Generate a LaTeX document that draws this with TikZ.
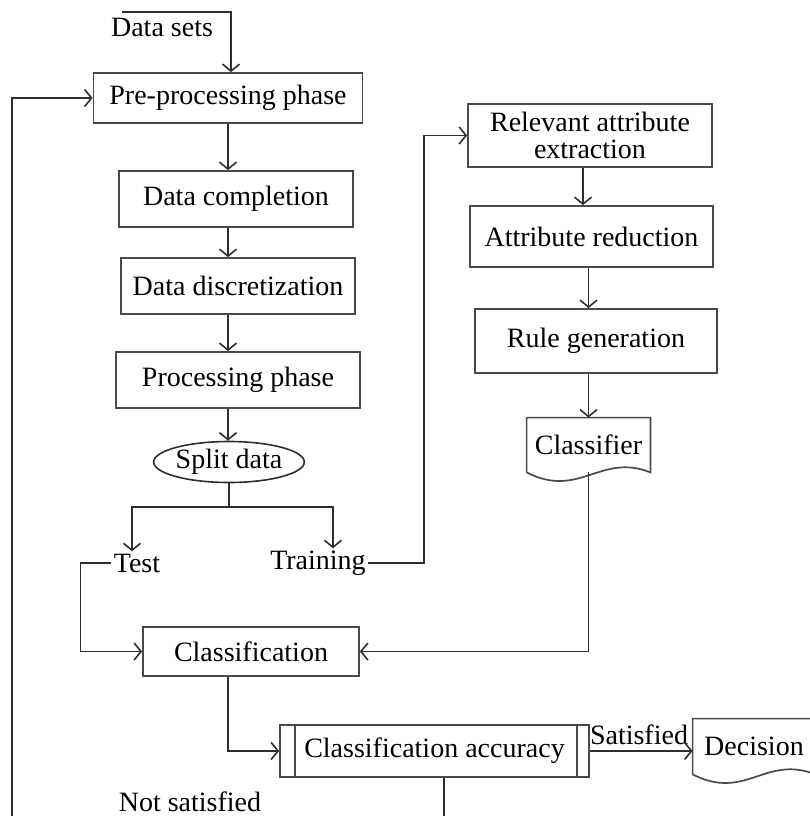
\documentclass[tikz,border=0pt]{standalone}
\usepackage{fontspec}
\setmainfont{Liberation Serif}
\usetikzlibrary{arrows.meta,shapes.geometric}
\definecolor{lineg}{HTML}{2E2E2E}
\definecolor{boxg}{HTML}{4A4A4A}
\begin{document}
\begin{tikzpicture}[x=0.5pt,y=-0.5pt,
	font=\fontsize{14}{13.5}\selectfont,
	box/.style={draw=boxg,line width=0.85pt,inner sep=2pt,align=center},
	docbox/.style={inner sep=2pt,align=center},
	lbl/.style={inner sep=1pt},
	arr/.style={draw=lineg,line width=0.8pt,-{Straight Barb[length=3.5pt,width=8.5pt]}},
	ln/.style={draw=lineg,line width=0.8pt}]
	\useasboundingbox (0,0) rectangle (810,816);
	\clip (0,0) rectangle (810,816);
	
	% left column
	\node[lbl] (ds) at (162,27) {Data sets};
	\node[box,minimum width=134.5pt,minimum height=25pt] (pre) at (228,98) {Pre-processing phase};
	\node[box,minimum width=117pt,minimum height=28pt] (comp) at (236,199) {Data completion};
	\node[box,minimum width=117pt,minimum height=28pt] (disc) at (238,286) {Data discretization};
	\node[box,minimum width=122pt,minimum height=28pt] (proc) at (238,380) {Processing phase};
	\node[draw=lineg,line width=0.8pt,ellipse,inner sep=0pt,minimum width=65pt,minimum height=20.5pt] (split) at (229,462) {Split data};
	\node[lbl] (test) at (137,563) {Test};
	\node[lbl] (train) at (318,563) {Training};
	\node[box,minimum width=108pt,minimum height=24.5pt] (cls) at (251,651.5) {Classification};
	\node[box,minimum width=154.5pt,minimum height=26pt] (acc) at (434.5,751) {Classification accuracy};
	\node[lbl] (sat) at (639,735) {Satisfied};
	\node[lbl] (nsat) at (190,802) {Not satisfied};
	
	% right column
	\node[box,minimum width=122pt,minimum height=31.5pt] (rae) at (590,135.5) {Relevant attribute\\extraction};
	\node[box,minimum width=121.5pt,minimum height=30.5pt] (ar) at (591.5,236.5) {Attribute reduction};
	\node[box,minimum width=121pt,minimum height=32pt] (rg) at (596,341) {Rule generation};
	\node[docbox,minimum width=61.5pt,minimum height=27pt] (clf) at (588.5,445) {Classifier};
	\node[docbox,minimum width=61pt,minimum height=27.5pt] (dec) at (754,746.5) {Decision};
	
	% document and process outlines
	\draw[draw=boxg,line width=0.85pt] (clf.south west) -- (clf.north west) -- (clf.north east) -- (clf.south east) .. controls +(-50,-20) and +(53,27) .. (clf.south west);
	\draw[draw=boxg,line width=0.85pt] (dec.south west) -- (dec.north west) -- (dec.north east) -- (dec.south east) .. controls +(-50,-20) and +(53,27) .. (dec.south west);
	\draw[draw=boxg,line width=0.85pt] ([xshift=8pt]acc.north west) -- ([xshift=8pt]acc.south west);
	\draw[draw=boxg,line width=0.85pt] ([xshift=-6.5pt]acc.north east) -- ([xshift=-6.5pt]acc.south east);
	
	% connectors
	\coordinate (dsin) at (122,12);
	\draw[arr] (dsin) -| ([xshift=1.5pt]pre.north);
	\draw[arr] (pre.south) -- (pre.south |- comp.north);
	\draw[arr] (pre.south |- comp.south) -- (pre.south |- disc.north);
	\draw[arr] (pre.south |- disc.south) -- (pre.south |- proc.north);
	\draw[arr] (pre.south |- proc.south) -- (pre.south |- split.north);
	\coordinate (fork) at (229,507);
	\draw[ln] (split.south) -- (fork);
	\draw[arr] (fork) -| ([xshift=-2.5pt]test.north);
	\draw[arr] (fork) -| ([xshift=7.5pt]train.north);
	\draw[arr] (test.west) -- ++(-31,0) |- (cls.west);
	\draw[arr] (train.east) -- ++(56,0) |- (rae.west);
	\draw[arr] ([xshift=-3.5pt]rae.south) -- ([xshift=-3.5pt]rae.south |- ar.north);
	\draw[arr] (clf.north |- ar.south) -- (clf.north |- rg.north);
	\draw[arr] (clf.north |- rg.south) -- (clf.north);
	\draw[arr] (clf.south) |- (cls.east);
	\draw[arr] ([xshift=-11.5pt]cls.south) |- (acc.west);
	\draw[arr] (acc.east) -- (acc.east -| dec.west);
	\draw[arr] ([xshift=4.75pt]acc.south) |- (12,835) |- (pre.west);
\end{tikzpicture}
\end{document}
